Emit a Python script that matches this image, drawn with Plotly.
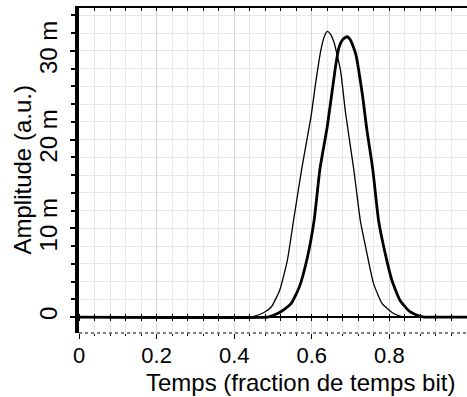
import plotly.graph_objects as go

# Time axis (fraction of bit time) and amplitudes (in milli-units)
thin_t = [0.0, 0.44, 0.462, 0.48, 0.496, 0.517, 0.537, 0.553, 0.574, 0.598, 0.611, 0.623,
          0.632, 0.640, 0.648, 0.657, 0.674, 0.687, 0.708, 0.725, 0.742, 0.759, 0.781,
          0.810, 0.827, 0.84, 1.0]
thin_a = [0, 0, 0.23, 0.6, 1.16, 3.0, 6.4, 10.9, 16.7, 22.6, 26.7, 30.0,
          31.6, 32.2, 31.9, 31.0, 27.8, 23.0, 16.7, 10.9, 7.2, 3.8, 1.54,
          0.42, 0.1, 0, 0]

thick_t = [0.0, 0.487, 0.496, 0.513, 0.530, 0.547, 0.568, 0.589, 0.606, 0.621, 0.640,
           0.661, 0.670, 0.680, 0.691, 0.700, 0.713, 0.730, 0.742, 0.757, 0.772, 0.789,
           0.806, 0.827, 0.853, 0.878, 0.89, 1.0]
thick_a = [0, 0, 0.1, 0.42, 0.9, 1.54, 3.4, 6.8, 10.9, 16.7, 21.5,
           28.2, 30.4, 31.3, 31.6, 31.2, 29.7, 25.2, 21.1, 16.7, 10.9, 7.2,
           4.2, 1.9, 0.6, 0.1, 0, 0]

y_tickvals = [0, 0.01, 0.02, 0.03]
y_ticktext = ["0", "10 m", "20 m", "30 m"]
x_tickvals = [0, 0.2, 0.4, 0.6, 0.8, 1.0]
x_ticktext = ["0", "0.2", "0.4", "0.6", "0.8", "1"]

XR = [0, 1.0]
YR = [-0.0018, 0.03484]
zero_pos = (0 - YR[0]) / (YR[1] - YR[0])

FONT = "Liberation Sans, Arial, sans-serif"

fig = go.Figure()
fig.add_trace(go.Scatter(x=thin_t, y=[v * 1e-3 for v in thin_a], mode="lines",
                         line=dict(color="black", width=1.3, shape="spline", smoothing=0.5),
                         showlegend=False))
fig.add_trace(go.Scatter(x=thick_t, y=[v * 1e-3 for v in thick_a], mode="lines",
                         line=dict(color="black", width=2.8, shape="spline", smoothing=0.5),
                         showlegend=False))
# empty helpers so that the decorative axes are drawn
fig.add_trace(go.Scatter(x=[], y=[], xaxis="x2", showlegend=False, hoverinfo="skip"))
fig.add_trace(go.Scatter(x=[], y=[], xaxis="x3", showlegend=False, hoverinfo="skip"))
fig.add_trace(go.Scatter(x=[], y=[], xaxis="x4", showlegend=False, hoverinfo="skip"))

fig.update_layout(
    width=467, height=397,
    margin=dict(l=79, r=0, t=8, b=64, autoexpand=False),
    paper_bgcolor="white", plot_bgcolor="white",
    font=dict(family=FONT, color="black"),
    xaxis=dict(
        range=XR, tickmode="array", tickvals=x_tickvals, ticktext=x_ticktext,
        showline=False, zeroline=False, automargin=False,
        ticks="outside", ticklen=5, tickcolor="black", tickwidth=1,
        tickfont=dict(size=22, family=FONT), ticklabelstandoff=-2,
        showgrid=True, gridcolor="#d6d6d6", gridwidth=1,
        minor=dict(dtick=0.04, tick0=0, showgrid=True, gridcolor="#e8e8e8",
                   ticks="outside", ticklen=2, tickcolor="black"),
    ),
    xaxis2=dict(  # line at y = 0 with ticks below
        range=XR, overlaying="x", anchor="free", position=zero_pos, automargin=False,
        showline=True, linecolor="black", linewidth=1.5,
        ticks="outside", ticklen=3, tickcolor="black", dtick=0.04, tick0=0,
        showticklabels=False, showgrid=False, zeroline=False,
    ),
    xaxis4=dict(  # ticks above the y = 0 line
        range=XR, overlaying="x", anchor="free", position=zero_pos, side="top",
        showline=False, automargin=False,
        ticks="outside", ticklen=3, tickcolor="black", dtick=0.04, tick0=0,
        showticklabels=False, showgrid=False, zeroline=False,
    ),
    xaxis3=dict(  # top frame line
        range=XR, overlaying="x", anchor="y", side="top", automargin=False,
        showline=True, linecolor="black", linewidth=1.5,
        ticks="inside", ticklen=3, tickcolor="black", dtick=0.04, tick0=0,
        showticklabels=False, showgrid=False, zeroline=False,
    ),
    yaxis=dict(
        range=YR, tickmode="array", tickvals=y_tickvals, ticktext=y_ticktext,
        tickangle=-90, tickfont=dict(size=24, family=FONT), automargin=False,
        showline=True, linecolor="black", linewidth=4,
        ticks="outside", ticklen=5, tickwidth=2, tickcolor="black",
        ticklabelstandoff=3,
        showgrid=True, gridcolor="#e0e0e0", zeroline=False,
        minor=dict(dtick=0.002, tick0=0, showgrid=True, gridcolor="#e8e8e8",
                   ticks="outside", ticklen=4, tickwidth=2, tickcolor="black"),
    ),
    shapes=[dict(type="line", xref="paper", yref="paper", x0=0, x1=1, y0=0, y1=0,
                 line=dict(color="black", width=1.2, dash="dot"))],
    annotations=[
        dict(text="Temps (fraction de temps bit)", xref="paper", yref="paper",
             x=(300 - 79) / 388, y=0, xanchor="center", yanchor="top", yshift=-34,
             showarrow=False, font=dict(size=24, family=FONT)),
        dict(text="Amplitude (a.u.)", xref="paper", yref="paper",
             x=0, y=0.5, xanchor="center", yanchor="middle", xshift=-57,
             textangle=-90, showarrow=False, font=dict(size=24, family=FONT)),
    ],
)

fig.write_html(
    "out.html",
    config={"displayModeBar": False},
    post_script="document.body.style.margin='0';document.body.style.overflow='hidden';",
)
